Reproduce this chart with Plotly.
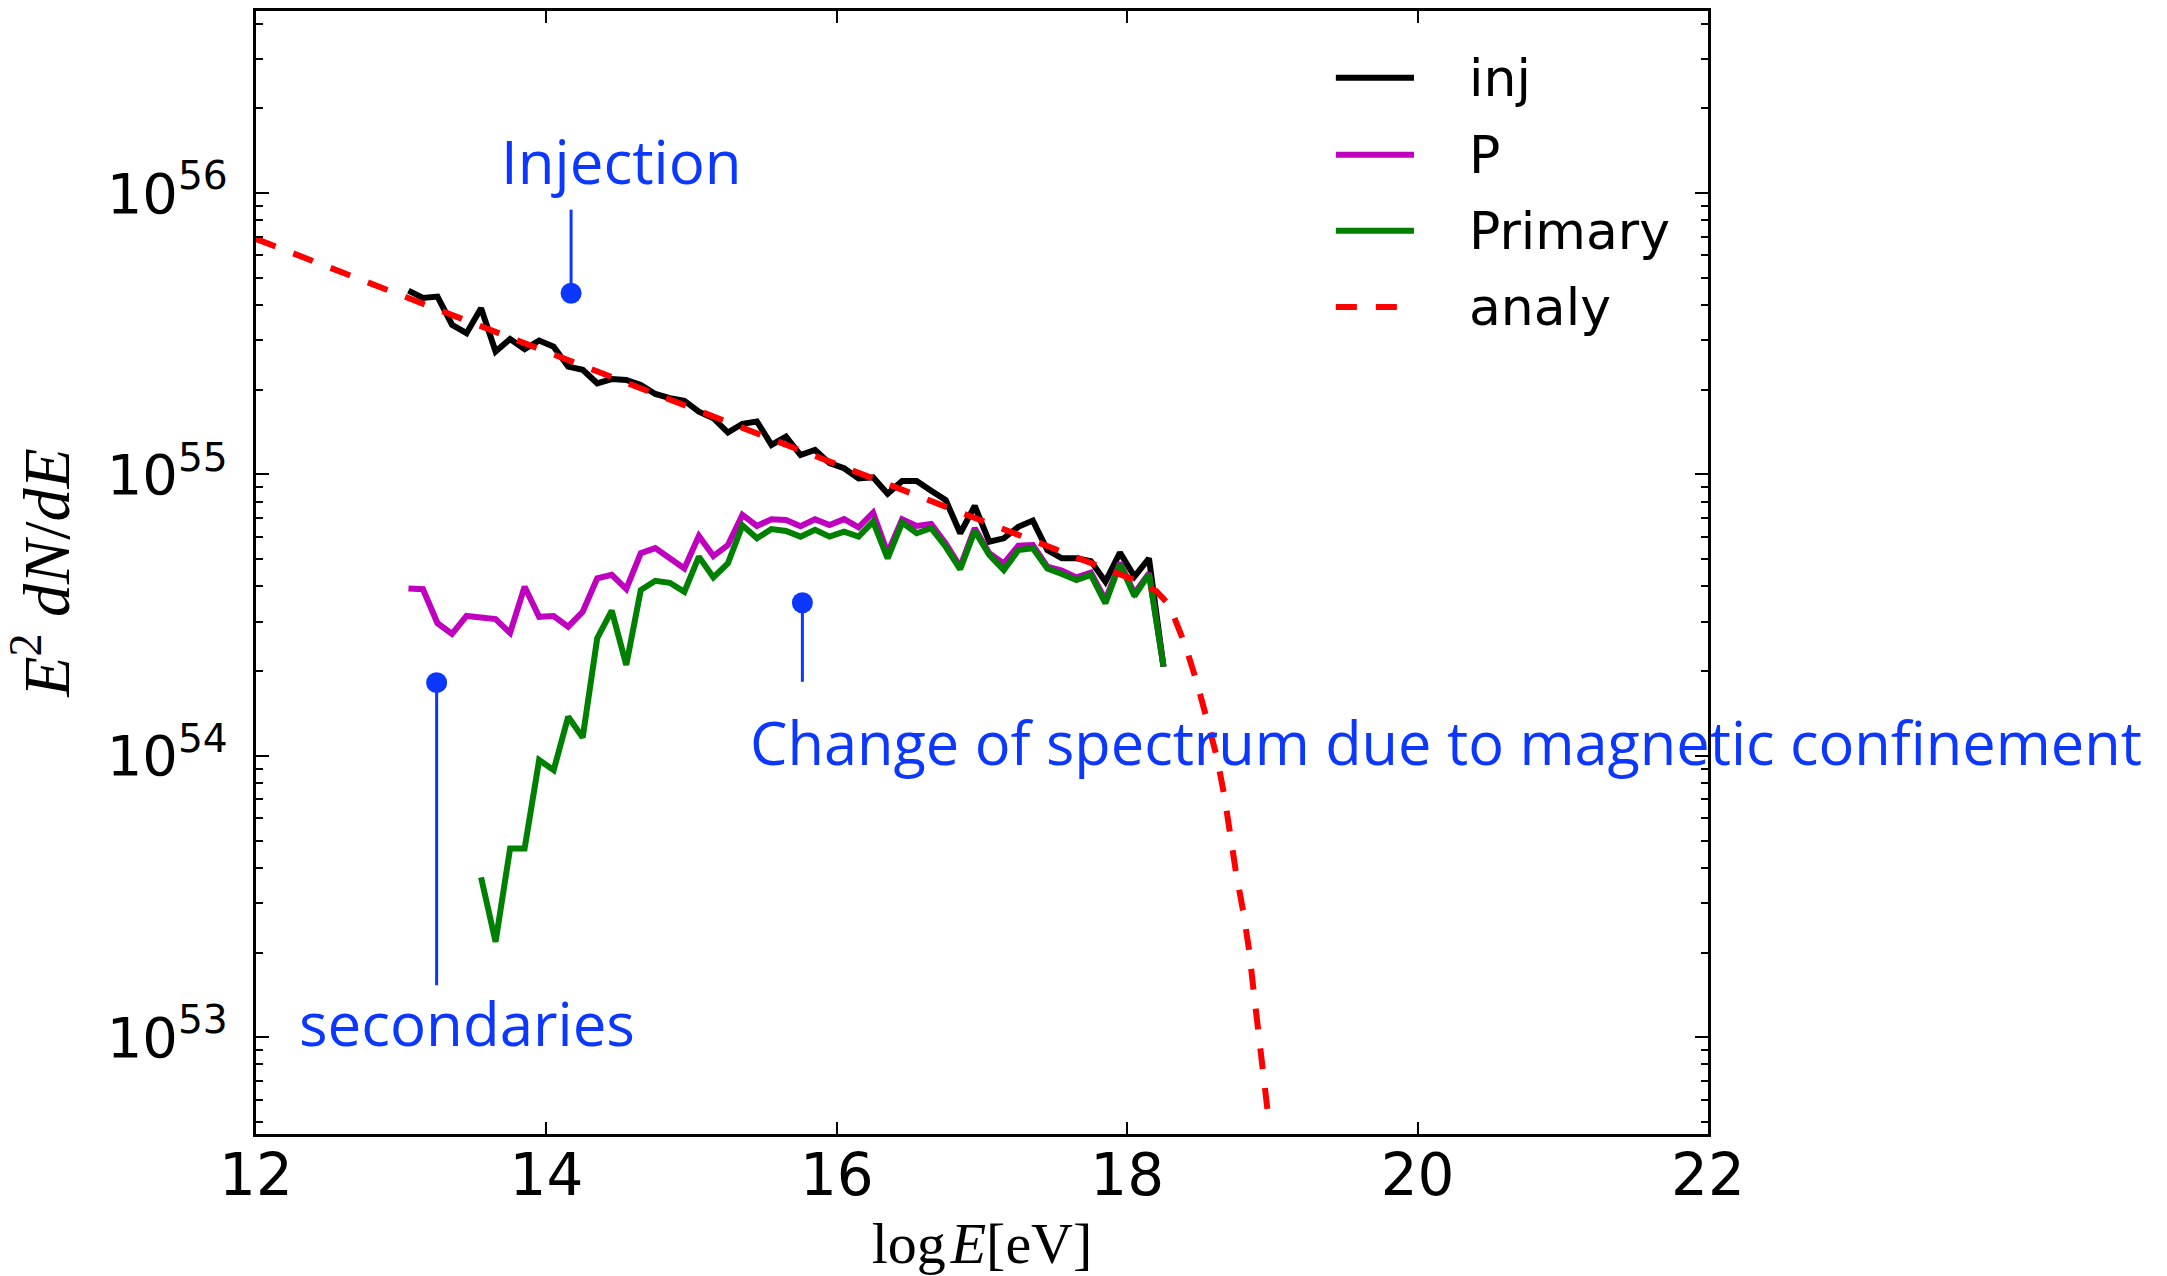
import plotly.graph_objects as go

# ---------------- data (log10 values) ----------------
logE = [13.05, 13.15, 13.25, 13.35, 13.45, 13.55, 13.65, 13.75, 13.85, 13.95,
        14.05, 14.15, 14.25, 14.35, 14.45, 14.55, 14.65, 14.75, 14.85, 14.95,
        15.05, 15.15, 15.25, 15.35, 15.45, 15.55, 15.65, 15.75, 15.85, 15.95,
        16.05, 16.15, 16.25, 16.35, 16.45, 16.55, 16.65, 16.75, 16.85, 16.95,
        17.05, 17.15, 17.25, 17.35, 17.45, 17.55, 17.65, 17.75, 17.85, 17.95,
        18.05, 18.15, 18.25]

inj_log10 = [55.653, 55.627, 55.632, 55.532, 55.502, 55.591, 55.437, 55.481, 55.445, 55.476,
             55.454, 55.383, 55.372, 55.324, 55.339, 55.336, 55.318, 55.286, 55.271, 55.262,
             55.223, 55.200, 55.149, 55.180, 55.188, 55.105, 55.134, 55.069, 55.087, 55.040,
             55.022, 54.986, 54.990, 54.931, 54.977, 54.977, 54.942, 54.909, 54.791, 54.888,
             54.761, 54.773, 54.814, 54.836, 54.731, 54.702, 54.702, 54.692, 54.619, 54.722,
             54.637, 54.702, 54.317]

p_log10 = [54.595, 54.592, 54.471, 54.433, 54.497, 54.494, 54.486, 54.437, 54.601, 54.494,
           54.497, 54.459, 54.512, 54.631, 54.643, 54.593, 54.720, 54.738, 54.702, 54.666,
           54.781, 54.710, 54.749, 54.856, 54.817, 54.841, 54.838, 54.816, 54.841, 54.820,
           54.841, 54.812, 54.864, 54.721, 54.841, 54.817, 54.824, 54.755, 54.672, 54.809,
           54.720, 54.684, 54.747, 54.749, 54.672, 54.658, 54.634, 54.651, 54.554, 54.686,
           54.578, 54.649, 54.317]

primary_logE = [13.55, 13.65, 13.75, 13.85, 13.95,
                14.05, 14.15, 14.25, 14.35, 14.45, 14.55, 14.65, 14.75, 14.85, 14.95,
                15.05, 15.15, 15.25, 15.35, 15.45, 15.55, 15.65, 15.75, 15.85, 15.95,
                16.05, 16.15, 16.25, 16.35, 16.45, 16.55, 16.65, 16.75, 16.85, 16.95,
                17.05, 17.15, 17.25, 17.35, 17.45, 17.55, 17.65, 17.75, 17.85, 17.95,
                18.05, 18.15, 18.25]
primary_log10 = [53.568, 53.339, 53.671, 53.671, 53.985,
                 53.949, 54.139, 54.065, 54.418, 54.516, 54.323, 54.589, 54.622, 54.615, 54.583,
                 54.708, 54.634, 54.684, 54.819, 54.773, 54.806, 54.799, 54.779, 54.803, 54.779,
                 54.797, 54.779, 54.832, 54.702, 54.829, 54.791, 54.809, 54.743, 54.663, 54.799,
                 54.714, 54.660, 54.731, 54.738, 54.666, 54.646, 54.625, 54.643, 54.542, 54.682,
                 54.568, 54.646, 54.317]

analy_logE = [12.0, 13.0, 14.0, 15.0, 16.0, 17.0, 18.0, 18.1, 18.2, 18.29, 18.40, 18.48,
              18.55, 18.62, 18.67, 18.71, 18.75, 18.80, 18.84, 18.87, 18.90, 18.93, 18.96, 18.98]
analy_log10 = [55.837, 55.637, 55.437, 55.237, 55.037, 54.837, 54.637, 54.615, 54.585, 54.536,
               54.393, 54.261, 54.127, 53.991, 53.855, 53.717, 53.583, 53.444, 53.308, 53.168,
               53.032, 52.892, 52.753, 52.68]

series_names = ["inj", "P", "Primary", "analy"]
series_colors = ["#000000", "#bf00bf", "#008000", "#ff0000"]

x_ticks = [12, 14, 16, 18, 20, 22]
y_tick_exp = [53, 54, 55, 56]

# annotation pointers (x in logE, y in log10 units): dot position and stick end
pointer_x = [14.170, 15.763, 13.244]
pointer_dot = [55.644, 54.544, 54.260]
pointer_end = [55.941, 54.263, 53.185]

BLUE = "#0b37ff"
DASH = "21px,19px"
LW = 6

fig = go.Figure()
fig.add_trace(go.Scatter(x=logE, y=[10.0 ** v for v in inj_log10], mode="lines",
                         name=series_names[0], line=dict(color=series_colors[0], width=LW),
                         showlegend=False))
fig.add_trace(go.Scatter(x=logE, y=[10.0 ** v for v in p_log10], mode="lines",
                         name=series_names[1], line=dict(color=series_colors[1], width=LW),
                         showlegend=False))
fig.add_trace(go.Scatter(x=primary_logE, y=[10.0 ** v for v in primary_log10], mode="lines",
                         name=series_names[2], line=dict(color=series_colors[2], width=LW),
                         showlegend=False))
fig.add_trace(go.Scatter(x=analy_logE, y=[10.0 ** v for v in analy_log10], mode="lines",
                         name=series_names[3], line=dict(color=series_colors[3], width=LW, dash=DASH),
                         showlegend=False))

# pointer sticks and dots
for px_, d, e in zip(pointer_x, pointer_dot, pointer_end):
    fig.add_trace(go.Scatter(x=[px_, px_], y=[10.0 ** d, 10.0 ** e], mode="lines",
                             line=dict(color=BLUE, width=3), showlegend=False, hoverinfo="skip"))
fig.add_trace(go.Scatter(x=pointer_x, y=[10.0 ** d for d in pointer_dot], mode="markers",
                         marker=dict(color=BLUE, size=21, line=dict(width=0)),
                         showlegend=False, hoverinfo="skip"))

fig.update_layout(
    width=2167, height=1276,
    margin=dict(l=256, r=459, t=11, b=142, autoexpand=False),
    paper_bgcolor="white", plot_bgcolor="white",
    showlegend=False,
)

fig.update_xaxes(
    range=[12, 22], tickvals=x_ticks, ticktext=[str(t) for t in x_ticks],
    ticks="inside", ticklen=12, tickwidth=2, tickcolor="black",
    mirror="allticks", showline=True, linewidth=3, linecolor="black",
    showgrid=False, zeroline=False, automargin=False, ticklabelstandoff=-12,
    tickfont=dict(family="DejaVu Sans", size=58, color="black"),
    title=dict(text="log\u200a<i>E</i>[eV]", standoff=17,
               font=dict(family="Liberation Serif", size=58, color="black")),
)
fig.update_yaxes(
    type="log", range=[52.656, 56.647],
    tickvals=[10.0 ** k for k in y_tick_exp],
    ticktext=["10<sup>%d</sup>" % k for k in y_tick_exp],
    ticks="inside", ticklen=13, tickwidth=2, tickcolor="black",
    mirror="allticks", showline=True, linewidth=3, linecolor="black",
    showgrid=False, zeroline=False, ticklabelstandoff=14, automargin=False,
    minor=dict(ticks="inside", ticklen=7, tickwidth=1.5, tickcolor="black", dtick="D1", showgrid=False),
    tickfont=dict(family="DejaVu Sans", size=56, color="black"),
    title=dict(text="<i>E</i><sup>2</sup> <i>dN</i>/<i>dE</i>", standoff=18,
               font=dict(family="Liberation Serif", size=66, color="black")),
)

fig.add_annotation(x=14.52, y=56.115, xref="x", yref="y", text="Injection", showarrow=False,
                   xanchor="center", yanchor="middle", font=dict(family="Open Sans", size=60, color=BLUE))
fig.add_annotation(x=15.39, y=54.052, xref="x", yref="y",
                   text="Change of spectrum due to magnetic confinement", showarrow=False,
                   xanchor="left", yanchor="middle", font=dict(family="Open Sans", size=59.5, color=BLUE))
fig.add_annotation(x=13.456, y=53.05, xref="x", yref="y", text="secondaries", showarrow=False,
                   xanchor="center", yanchor="middle", font=dict(family="Open Sans", size=60, color=BLUE))

# legend (upper right, no frame)
leg_x0, leg_x1, leg_tx = 0.7437, 0.7975, 0.8340
leg_rows = [0.9405, 0.8721, 0.8044, 0.7364]
for name, color, yy in zip(series_names, series_colors, leg_rows):
    fig.add_shape(type="line", xref="paper", yref="paper", x0=leg_x0, x1=leg_x1, y0=yy, y1=yy,
                  line=dict(color=color, width=LW, dash=DASH if name == "analy" else "solid"))
    fig.add_annotation(x=leg_tx, y=yy, xref="paper", yref="paper", text=name, showarrow=False,
                       xanchor="left", yanchor="middle",
                       font=dict(family="DejaVu Sans", size=52, color="black"))

fig.write_html("out.html")
